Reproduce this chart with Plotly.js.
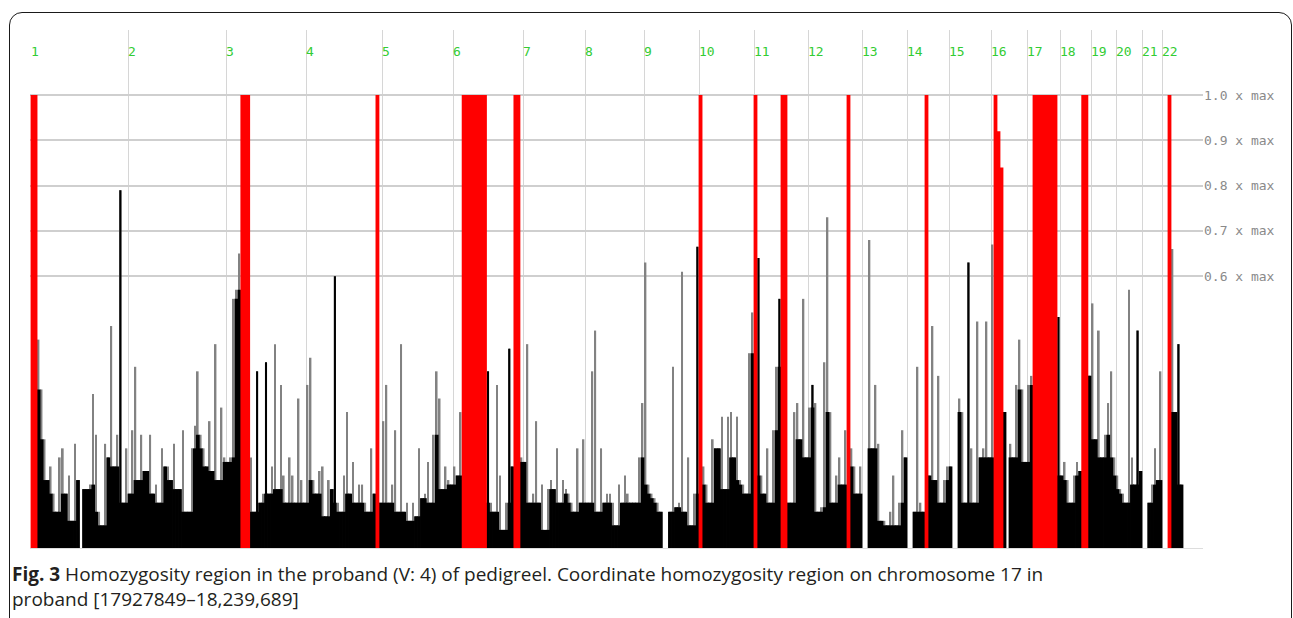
<!DOCTYPE html>
<html><head><meta charset="utf-8">
<script src="https://cdn.plot.ly/plotly-3.0.1.min.js"></script>
<style>
html,body{margin:0;padding:0;background:#fff;}
#wrap{position:relative;width:1293px;height:618px;overflow:hidden;}
#chart{position:absolute;left:0;top:0;width:1293px;height:618px;}
#frame{position:absolute;left:9px;top:12px;width:1281px;height:700px;border:1.5px solid #1a1a1a;border-radius:13px;pointer-events:none;}
</style></head>
<body><div id="wrap"><div id="chart"></div><div id="frame"></div></div>
<script>
// chromosome names and genome-axis start of each chromosome (genome units)
const chromNames = ['1','2','3','4','5','6','7','8','9','10','11','12','13','14','15','16','17','18','19','20','21','22'];
const chromStart = [31,128,226,306,382,453,523,585,644,699,754,808,862,907,949,991,1027,1060,1091,1116,1142,1162];
const genomeEnd = 1183;

// homozygosity scores (fraction of max) per chromosome, evenly spaced along each chromosome; null = no markers
const chr1  = [1.0,1.0,0.46,0.35,0.24,0.15,0.18,0.12,0.08,0.2,0.22,0.12,0.16,0.06,0.23,0.15,null,0.13,0.13,0.14,0.34,0.25,0.08,0.05,0.23,0.2,0.49,0.18,0.25,0.79,0.1,0.22];
const chr2  = [0.12,0.26,0.4,0.15,0.25,0.17,0.17,0.25,0.12,0.14,0.1,0.22,0.18,0.18,0.15,0.23,0.13,0.13,0.26,0.08,0.08,0.22,0.27,0.39,0.25,0.22,0.18,0.28,0.17,0.45,0.15,0.31,0.2];
const chr3  = [0.19,0.2,0.55,0.57,0.65,1.0,1.0,1.0,0.2,0.08,0.39,0.1,0.12,0.41,0.12,0.18,0.45,0.13,0.36,0.16,0.1,0.2,0.16,0.1,0.33,0.15,0.1];
const chr4  = [0.36,0.42,0.15,0.12,0.17,0.18,0.07,0.15,0.13,0.6,0.1,0.08,0.16,0.3,0.12,0.19,0.1,0.14,0.14,0.1,0.08,0.22,0.12,1.0,0.1];
const chr5  = [0.28,0.36,0.1,0.14,0.26,0.08,0.45,0.08,0.1,0.06,0.1,0.07,0.22,0.11,0.12,0.19,0.1,0.25,0.39,0.33,0.13,0.18,0.15,0.14];
const chr6  = [0.18,0.16,0.3,1,1,1,1,1,1,1,1,0.39,0.1,0.08,0.36,0.16,0.04,0.1,0.44,0.18,1,1,0.2];
const chr7  = [0.19,0.45,0.1,0.12,0.28,0.1,0.14,0.04,0.13,0.15,0.13,0.22,0.1,0.15,0.13,0.12,0.1,0.08,0.22,0.1,0.24];
const chr8  = [0.1,0.1,0.39,0.48,0.08,0.22,0.1,0.12,0.12,0.1,0.05,0.14,0.1,0.16,0.12,0.1,0.1,0.1,0.2,0.32];
const chr9  = [0.63,0.14,0.12,0.11,0.1,0.08,null,null,0.08,0.4,0.09,0.1,0.61,0.08,0.2,0.05,0.12,0.665];
const chr10 = [1,0.18,0.14,0.1,0.24,0.22,0.22,0.29,0.13,0.29,0.3,0.2,0.29,0.15,0.14,0.12,0.43,0.52];
const chr11 = [1,0.64,0.16,0.12,0.22,0.1,0.26,0.4,0.55,1,1,0.1,0.1,0.3,0.32,0.24,0.55,0.2];
const chr12 = [0.31,0.36,0.32,0.08,0.09,0.41,0.73,0.3,0.1,0.16,0.2,0.14,0.26,1,0.22,0.18,0.12,0.18];
const chr13 = [null,null,0.68,0.22,0.36,0.23,0.06,0.06,0.05,0.08,0.16,0.05,0.1,0.26,0.2];
const chr14 = [null,null,0.08,0.4,0.1,0.08,1,0.16,0.49,0.15,0.38,0.1,0.15,0.18];
const chr15 = [0.18,null,null,0.33,0.3,0.1,0.63,0.22,0.1,0.5,0.2,0.22,0.5,0.2];
const chr16 = [0.67,1,0.92,0.84,0.3,null,0.23,0.2,0.36,0.46,0.35,0.19];
const chr17 = [0.36,0.38,1,1,1,1,1,1,1,1,0.51];
const chr18 = [0.16,0.19,0.15,0.1,0.16,0.19,0.17,1,1,0.38];
const chr19 = [0.54,0.24,0.48,0.2,0.25,0.32,0.39,0.2];
const chr20 = [0.16,0.13,0.12,0.1,0.57,0.2,0.14,0.48,0.17];
const chr21 = [null,null,0.1,0.14,0.22,0.15,0.39];
const chr22 = [null,null,1,0.66,0.3,0.45,0.14];
const scores = [chr1,chr2,chr3,chr4,chr5,chr6,chr7,chr8,chr9,chr10,chr11,chr12,chr13,chr14,chr15,chr16,chr17,chr18,chr19,chr20,chr21,chr22];

// style only: peaks that appear as solid dark bars in the figure ([chromosome, index])
const solidPeaks = [[1,29],[3,10],[3,13],[4,9],[6,11],[6,18],[9,17],[11,1],[11,8],[12,1],[15,6],[17,10],[18,9],[20,7],[22,5]];

const yTickVals = [0.6,0.7,0.8,0.9,1.0];
const yTickText = yTickVals.map(v => v.toFixed(1) + ' x max');
const redThreshold = 0.8;
const caption = '<b>Fig. 3</b> Homozygosity region in the proband (V: 4) of pedigreel. Coordinate homozygosity region on chromosome 17 in<br>proband [17927849–18,239,689]';

// build bar positions from the chromosome layout
const xs = [], vs = [], ws = [], solid = [];
const solidKey = new Set(solidPeaks.map(p => p[0] + ':' + p[1]));
scores.forEach((arr, c) => {
  const s = chromStart[c];
  const e = c < chromStart.length - 1 ? chromStart[c + 1] : genomeEnd;
  const sp = (e - s) / arr.length;
  arr.forEach((v, i) => {
    xs.push(s + (i + 0.5) * sp); vs.push(v); ws.push(sp);
    solid.push(solidKey.has((c + 1) + ':' + i));
  });
});
const grayY = [], blackY = [], redY = [], spikeY = [];
vs.forEach((v, k) => {
  if (v === null) { grayY.push(null); blackY.push(null); redY.push(null); spikeY.push(null); return; }
  const p = (k > 0 && vs[k - 1] !== null) ? vs[k - 1] : v;
  const n = (k < vs.length - 1 && vs[k + 1] !== null) ? vs[k + 1] : v;
  if (v >= redThreshold) { redY.push(v); grayY.push(null); blackY.push(null); spikeY.push(null); }
  else {
    redY.push(null); grayY.push(v); blackY.push(Math.min(p, v, n));
    spikeY.push(solid[k] ? v : null);
  }
});

const traces = [
  {type:'bar', x:xs, y:grayY, width:ws.map(w => w * 0.55), marker:{color:'#828282', line:{width:0}}, hoverinfo:'skip'},
  {type:'bar', x:xs, y:spikeY, width:ws.map(w => w * 0.7), marker:{color:'#000000', line:{width:0}}, hoverinfo:'skip'},
  {type:'bar', x:xs, y:blackY, width:ws.map(w => w + 0.8), marker:{color:'#000000', line:{width:0}}, hoverinfo:'skip'},
  {type:'bar', x:xs, y:redY, width:ws.map(w => w + 0.8), marker:{color:'#ff0000', line:{width:0}}, hoverinfo:'skip'}
];

const annotations = chromNames.map((nm, i) => ({
  x: chromStart[i], xref:'x', y:0.958, yref:'paper', text:nm, showarrow:false,
  xanchor:'left', yanchor:'middle', xshift:-2,
  font:{family:'DejaVu Sans Mono, monospace', size:13, color:'#33cc33'}
}));
annotations.push({x:-0.01705, xref:'paper', y:-0.0743, yref:'paper', text:caption, showarrow:false,
  xanchor:'left', yanchor:'middle', align:'left',
  font:{family:'Open Sans, sans-serif', size:19, color:'#231f20'}});

const layout = {
  width:1293, height:618,
  margin:{l:30, r:90, t:30, b:70},
  paper_bgcolor:'#ffffff', plot_bgcolor:'#ffffff',
  showlegend:false, barmode:'overlay',
  xaxis:{range:[30,1203], tickvals:chromStart, showticklabels:false, ticks:'', showgrid:true,
         gridcolor:'#d6d6d6', gridwidth:1, zeroline:false, showline:false, fixedrange:true},
  yaxis:{range:[0,1.1435], tickvals:yTickVals, ticktext:yTickText, side:'right', ticks:'',
         showgrid:true, gridcolor:'#cfcfcf', gridwidth:1.5, zeroline:true, zerolinecolor:'#dddddd',
         zerolinewidth:1, showline:false, fixedrange:true,
         tickfont:{family:'DejaVu Sans Mono, monospace', size:13, color:'#8a8a8a'}},
  annotations: annotations
};
Plotly.newPlot('chart', traces, layout, {displayModeBar:false});
</script>
</body></html>
